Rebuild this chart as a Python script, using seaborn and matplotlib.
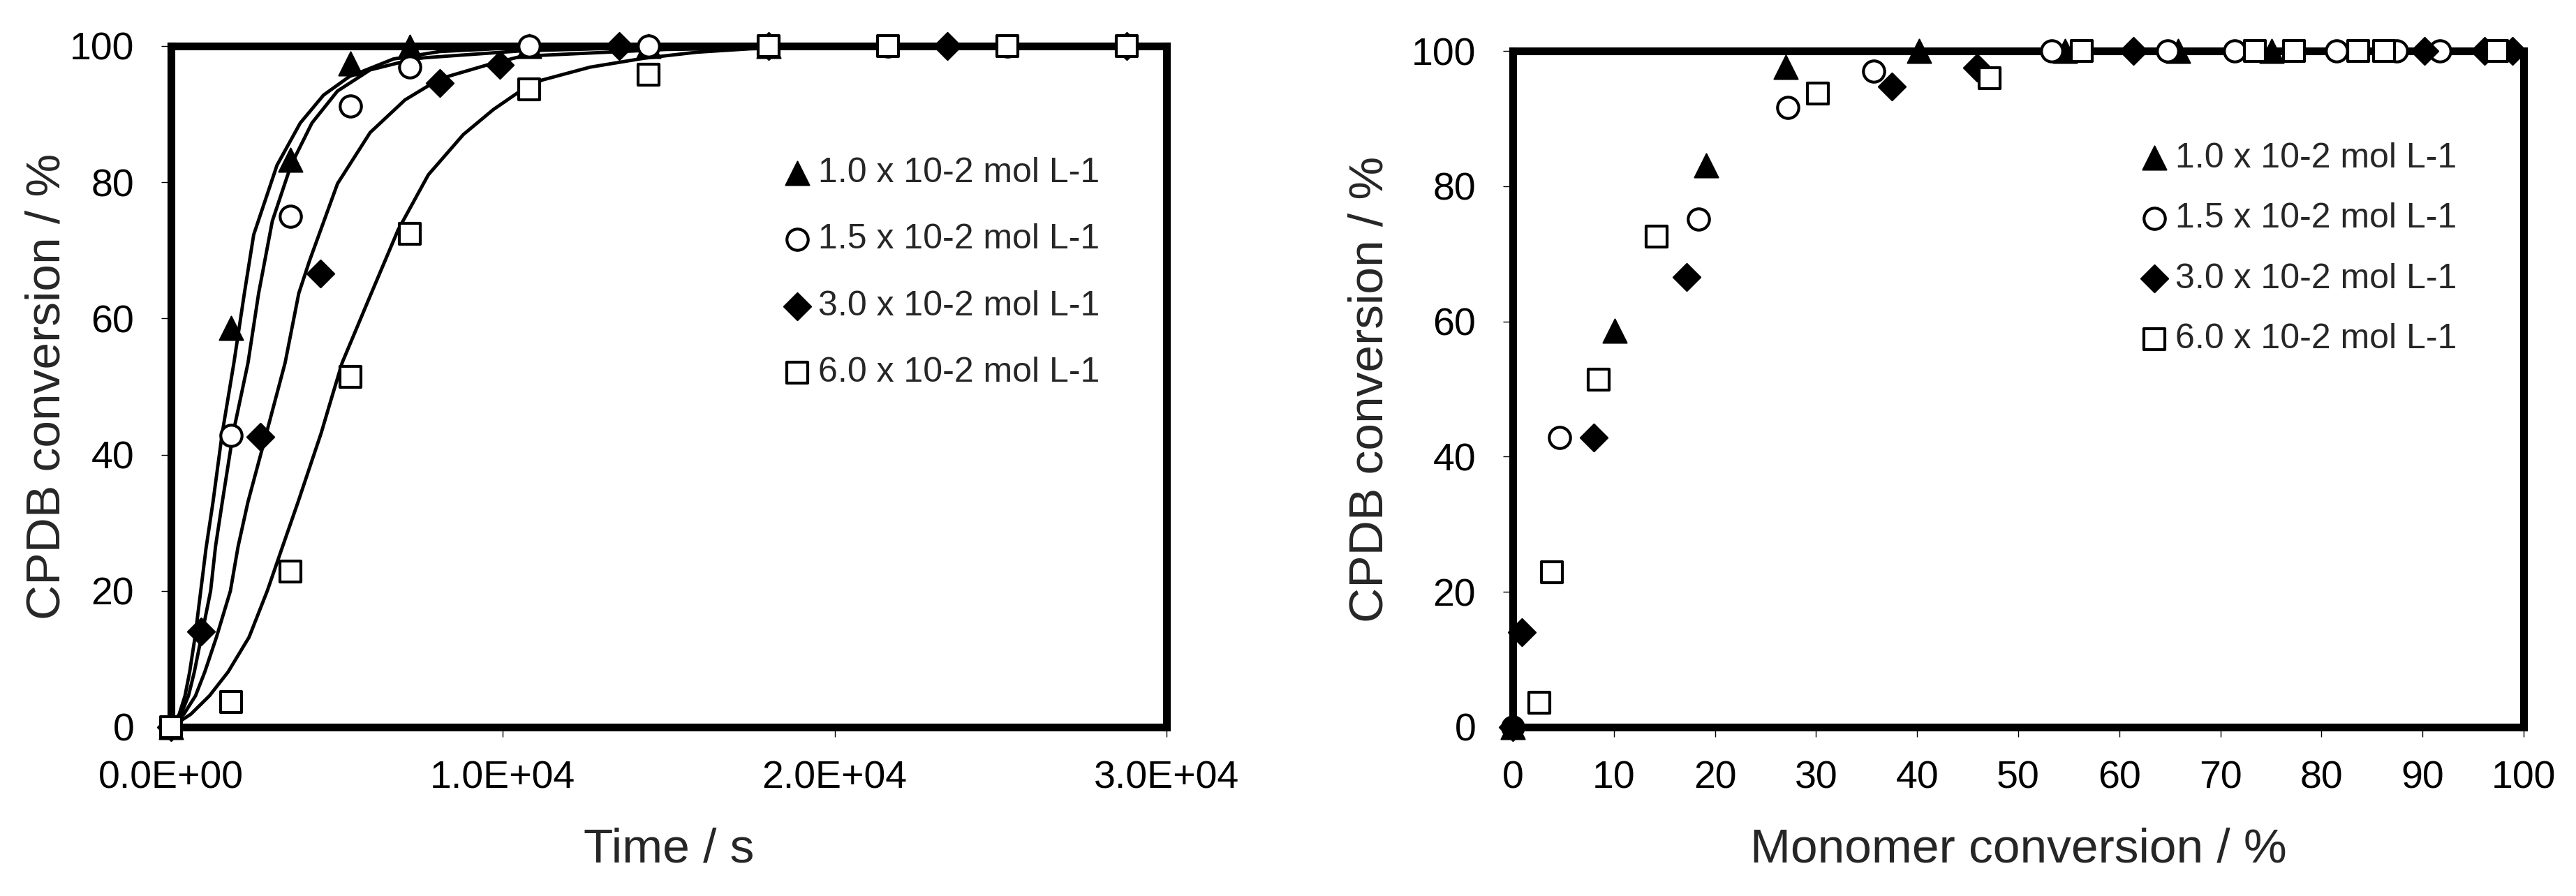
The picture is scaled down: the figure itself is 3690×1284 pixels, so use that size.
import matplotlib
matplotlib.use("Agg")
import matplotlib.pyplot as plt
import seaborn as sns
from matplotlib.ticker import FuncFormatter

# legend labels (one per CPDB concentration)
labels = ["1.0 x 10-2 mol L-1", "1.5 x 10-2 mol L-1",
          "3.0 x 10-2 mol L-1", "6.0 x 10-2 mol L-1"]

# ---- left panel: CPDB conversion vs time (points) ----
tri_time = [0, 1800, 3600, 5400, 7200, 10800, 14400, 18000]
tri_cpdb = [0, 58.6, 83.3, 97.4, 99.9, 100, 100, 100]
circ_time = [0, 1800, 3600, 5400, 7200, 10800, 14400, 18000, 21600, 25200, 28800]
circ_cpdb = [0, 42.8, 75.0, 91.2, 96.9, 100, 100, 100, 100, 100, 100]
diam_time = [0, 900, 2700, 4500, 8100, 9900, 13500, 18000, 23400, 28800]
diam_cpdb = [0, 14.0, 42.6, 66.6, 94.6, 97.2, 100, 100, 100, 100]
sq_time = [0, 1800, 3600, 5400, 7200, 10800, 14400, 18000, 21600, 25200, 28800]
sq_cpdb = [0, 3.7, 22.8, 51.4, 72.4, 93.6, 95.8, 100, 100, 100, 100]

# fitted curves
fit1_time = [0, 246, 421, 561, 722, 1053, 1263, 1544, 1895, 2210, 2491, 3193,
             3894, 4596, 5368, 6700, 8105, 10560, 15000, 30000]
fit1_cpdb = [0, 1.9, 4.6, 8.1, 13.2, 26.2, 33.0, 43.2, 53.5, 63.7, 72.3, 82.5,
             88.7, 92.8, 95.5, 98.1, 99.2, 99.8, 100, 100]
fit2_time = [0, 302, 526, 702, 912, 1193, 1340, 1543, 1873, 2320, 2640, 3052,
             3614, 4246, 5017, 6000, 7403, 10560, 15000, 20000, 30000]
fit2_cpdb = [0, 1.9, 4.6, 8.1, 13.2, 20.0, 26.5, 33.0, 43.2, 53.5, 63.7, 74.3,
             82.5, 88.7, 93.4, 96.5, 98.2, 99.3, 99.9, 100, 100]
fit3_time = [0, 386, 737, 1017, 1368, 1789, 2020, 2315, 2877, 3438, 3850, 4175,
             5017, 6000, 7052, 8105, 9509, 10560, 14900, 20000, 30000]
fit3_cpdb = [0, 1.9, 4.6, 8.1, 13.2, 20.0, 26.5, 33.0, 43.2, 53.5, 63.7, 68.5,
             79.8, 87.3, 92.1, 95.2, 97.2, 98.5, 99.5, 99.9, 100]
fit4_time = [0, 596, 1158, 1719, 2351, 2900, 3360, 3824, 4526, 4842, 5157, 6000,
             6842, 7754, 8807, 9719, 10526, 11176, 12627, 14237, 15850, 17450,
             20000, 30000]
fit4_cpdb = [0, 1.9, 4.6, 8.1, 13.2, 20.0, 26.5, 33.0, 43.2, 48.4, 53.5, 63.3,
             73.0, 81.1, 87.0, 90.7, 93.4, 95.0, 96.9, 98.2, 99.1, 99.6,
             99.9, 100]

# ---- right panel: CPDB conversion vs monomer conversion ----
tri_mono = [0, 10.1, 19.1, 27.0, 40.2, 54.6, 65.8, 75.1]
tri_cpdb2 = [0, 58.6, 83.1, 97.6, 100, 100, 100, 100]
circ_mono = [0, 4.6, 18.4, 27.2, 35.7, 53.3, 64.8, 71.4, 81.5, 87.4, 91.7]
circ_cpdb2 = [0, 42.8, 75.1, 91.6, 97.0, 100, 100, 100, 100, 100, 100]
diam_mono = [0, 0.9, 8.0, 17.2, 37.5, 45.9, 61.4, 90.2, 96.1, 98.9]
diam_cpdb2 = [0, 14.0, 42.8, 66.6, 94.7, 97.5, 100, 100, 100, 100]
sq_mono = [2.6, 3.9, 8.5, 14.2, 30.2, 47.2, 56.3, 73.4, 77.3, 83.6, 86.2, 97.4]
sq_cpdb2 = [3.6, 22.9, 51.4, 72.5, 93.7, 96.0, 100, 100, 100, 100, 100, 100]

sns.set_style("ticks")
plt.rcParams["font.family"] = ["Liberation Sans", "DejaVu Sans"]

fig = plt.figure(figsize=(36.9, 12.84), dpi=100)
ax1 = fig.add_axes([245 / 3690, 242 / 1284, 1426 / 3690, 976 / 1284])
ax2 = fig.add_axes([2167 / 3690, 242 / 1284, 1448 / 3690, 969 / 1284])

# marker styles: triangle, circle, diamond, square
mstyle = [
    dict(marker="^", s=600, color="black", edgecolor="black", linewidth=1.5),
    dict(marker="o", s=480, color="white", edgecolor="black", linewidth=3.0),
    dict(marker="D", s=400, color="black", edgecolor="black", linewidth=1.5),
    dict(marker="s", s=490, color="white", edgecolor="black", linewidth=3.0),
]

# curves first, then points on top
for t, c in [(fit1_time, fit1_cpdb), (fit2_time, fit2_cpdb),
             (fit3_time, fit3_cpdb), (fit4_time, fit4_cpdb)]:
    sns.lineplot(x=t, y=c, ax=ax1, color="black", linewidth=3.5,
                 estimator=None, sort=False, legend=False, zorder=2)

left_pts = [(tri_time, tri_cpdb), (circ_time, circ_cpdb),
            (diam_time, diam_cpdb), (sq_time, sq_cpdb)]
right_pts = [(tri_mono, tri_cpdb2), (circ_mono, circ_cpdb2),
             (diam_mono, diam_cpdb2), (sq_mono, sq_cpdb2)]

for i in range(4):
    sns.scatterplot(x=left_pts[i][0], y=left_pts[i][1], ax=ax1, label=labels[i],
                    zorder=4 + i, clip_on=False, **mstyle[i])
    sns.scatterplot(x=right_pts[i][0], y=right_pts[i][1], ax=ax2, label=labels[i],
                    zorder=4 + i, clip_on=False, **mstyle[i])

ax1.set_xlim(0, 30000)
ax1.set_xticks([0, 10000, 20000, 30000])
ax1.xaxis.set_major_formatter(FuncFormatter(lambda v, p: f"{v:.1E}"))
ax2.set_xlim(0, 100)
ax2.set_xticks(range(0, 101, 10))

for ax in (ax1, ax2):
    ax.set_ylim(0, 100)
    ax.set_yticks(range(0, 101, 20))
    for sp in ax.spines.values():
        sp.set_visible(True)
        sp.set_linewidth(8)
        sp.set_color("black")
        sp.set_zorder(3)
    ax.tick_params(direction="out", length=10, width=1, labelsize=40,
                   colors="black")
    ax.tick_params(axis="y", pad=28)
    ax.tick_params(axis="x", pad=24)
    ax.set_facecolor("white")

ax1.set_xlabel("Time / s", fontsize=50, labelpad=32)
ax1.set_ylabel("CPDB conversion / %", fontsize=50, labelpad=0)
ax2.set_xlabel("Monomer conversion / %", fontsize=50, labelpad=32)
ax2.set_ylabel("CPDB conversion / %", fontsize=50, labelpad=20)

ax1.legend(loc="upper left", bbox_to_anchor=(0.594, 0.863), frameon=False,
           fontsize=36, borderpad=0, handlelength=1.0, handletextpad=0.1,
           labelspacing=0.99, scatterpoints=1)
ax2.legend(loc="upper left", bbox_to_anchor=(0.600, 0.891), frameon=False,
           fontsize=36, borderpad=0, handlelength=1.0, handletextpad=0.1,
           labelspacing=0.81, scatterpoints=1)

fig.savefig("out.png", dpi=100, facecolor="white")
